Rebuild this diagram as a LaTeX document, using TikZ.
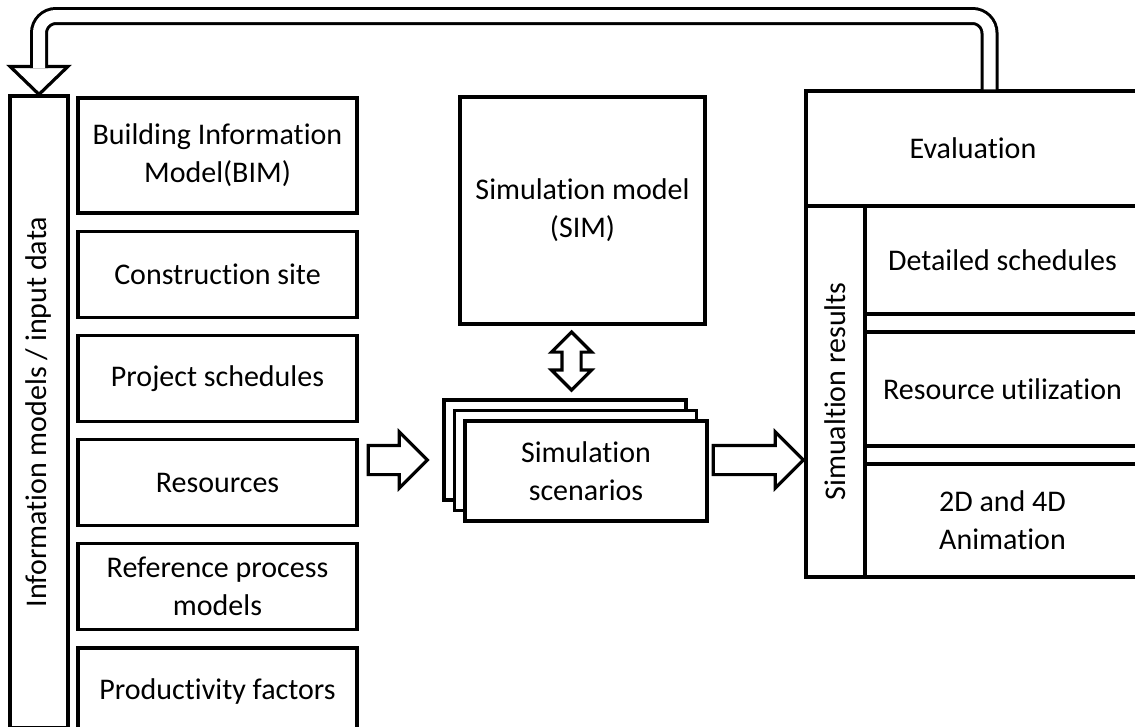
\documentclass[tikz,border=0pt]{standalone}
\usepackage{fontspec}
\setmainfont[Ligatures=NoCommon]{Carlito}
\usetikzlibrary{positioning,shapes.arrows,shadows}

\begin{document}
\begin{tikzpicture}[x=1pt,y=-1pt,node distance=15pt,
  box/.style={draw,line width=3.2pt,fill=white,minimum width=279pt,minimum height=86pt,
    inner sep=0pt,align=center,font=\fontsize{30}{38}\selectfont},
  bararrow/.style={draw,line width=3.2pt,fill=white,single arrow,single arrow head extend=13.5pt,
    inner xsep=0pt,inner ysep=13pt},
  linkarrow/.style={draw,line width=3.2pt,fill=white,double arrow,double arrow head extend=10.5pt,
    inner xsep=0pt,inner ysep=8pt,minimum height=58pt,rotate=90},
  outline/.style={draw,line width=3.2pt,fill=white},
  feedback/.style={draw,line width=3pt,double=white,double distance=12pt,rounded corners=17pt}]
\useasboundingbox (0,0) rectangle (1135,726);

% input data
\node[box,rotate=90,minimum width=632pt,minimum height=58pt] (inbar) at (39,412) {Information models / input data};
\node[box,minimum height=115pt] (bim) at (217.5,155.5) {Building Information\\Model(BIM)};
\node[box] (site) [below=of bim] {Construction site};
\node[box] (sched) [below=of site] {Project schedules};
\node[box] (res) [below=of sched] {Resources};
\node[box] (refproc) [below=of res] {Reference process\\models};
\node[box] (prod) [below=of refproc] {Productivity factors};

% simulation
\node[box,minimum width=245pt,minimum height=227pt] (simmodel) at (582.5,210.5) {Simulation model\\(SIM)};
\node[box,minimum width=242pt,minimum height=100pt,
  copy shadow={shadow xshift=-21pt,shadow yshift=21pt},
  copy shadow={shadow xshift=-10.5pt,shadow yshift=10.5pt}] (scen) at (586,471) {Simulation\\scenarios};
\node[linkarrow] (link) at (571.5,361) {};
\node[bararrow,minimum height=59pt] (inarrow) at (390.5,460) {};
\node[bararrow,minimum height=90pt] (outarrow) at (751,460) {};

% results
\node[box,minimum width=334pt,minimum height=115pt] (eval) at (973,148.5) {Evaluation};
\node[box,rotate=90,minimum width=371pt,minimum height=59pt] (simres) at (835.5,391.5) {Simualtion results};
\node[box,minimum width=275pt,minimum height=108pt] (detail) at (1002.5,260) {Detailed schedules};
\node[box,minimum width=275pt,minimum height=114pt] (util) at (1002.5,389) {Resource utilization};
\node[box,minimum width=275pt,minimum height=113pt] (anim) at (1002.5,520.5) {2D and 4D\\Animation};

% feedback loop
\coordinate (fbx) at (989.5,0);
\coordinate (fby) at (0,16);
\draw[outline] ([xshift=-29pt,yshift=28pt]inbar.east) -- ([xshift=29pt,yshift=28pt]inbar.east) -- (inbar.east) -- cycle;
\draw[feedback] (eval.north -| fbx) |- (fby -| inbar.east) -- ([yshift=26.4pt]inbar.east);
\end{tikzpicture}
\end{document}
